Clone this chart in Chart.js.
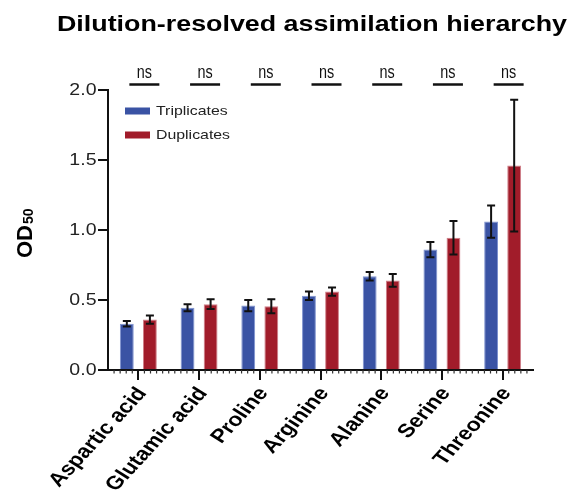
<!DOCTYPE html>
<html>
<head>
<meta charset="utf-8">
<script src="https://cdn.jsdelivr.net/npm/chart.js@4/dist/chart.umd.min.js"></script>
<style>
  html, body { margin: 0; padding: 0; background: #fff; }
  #wrap { width: 570px; height: 496px; }
</style>
</head>
<body>
<div id="wrap"><canvas id="c" width="570" height="496"></canvas></div>
<script>
// Amino acids, ordered by assimilation
const categories = ['Aspartic acid', 'Glutamic acid', 'Proline', 'Arginine', 'Alanine', 'Serine', 'Threonine'];

// OD50 means and error (SD) per replicate scheme
const triplicates    = [0.33, 0.445, 0.46, 0.53, 0.67, 0.86, 1.06];
const triplicatesErr = [0.02, 0.025, 0.04, 0.03, 0.03, 0.055, 0.115];
const duplicates     = [0.36, 0.47, 0.455, 0.56, 0.64, 0.945, 1.46];
const duplicatesErr  = [0.03, 0.035, 0.05, 0.03, 0.045, 0.12, 0.47];

// Significance labels per amino acid
const significance = ['ns', 'ns', 'ns', 'ns', 'ns', 'ns', 'ns'];

// y-axis tick values
const yTicks = [0, 0.5, 1.0, 1.5, 2.0];

const titleText = 'Dilution-resolved assimilation hierarchy';
const FONT = "'Liberation Sans', Arial, Helvetica, sans-serif";
const SX = 1.22; // horizontal text widening used throughout the figure

const BLUE = '#3a53a4';
const RED = '#a11c2a';

// Draws the figure text, error bars, significance marks, legend and minor ticks
const decorations = {
  id: 'decorations',
  afterDatasetsDraw(chart) {
    const ctx = chart.ctx;
    const y = chart.scales.y;

    // error bars
    ctx.save();
    ctx.strokeStyle = '#111';
    ctx.lineWidth = 2;
    chart.data.datasets.forEach((ds, di) => {
      const meta = chart.getDatasetMeta(di);
      meta.data.forEach((bar, i) => {
        const v = ds.data[i], e = ds.err[i];
        const yt = y.getPixelForValue(v + e);
        const yb = y.getPixelForValue(v - e);
        const cx = bar.x;
        ctx.beginPath();
        ctx.moveTo(cx, yt); ctx.lineTo(cx, yb);
        ctx.moveTo(cx - 4, yt); ctx.lineTo(cx + 4, yt);
        ctx.moveTo(cx - 4, yb); ctx.lineTo(cx + 4, yb);
        ctx.stroke();
      });
    });
    ctx.restore();
  },
  afterDraw(chart) {
    const ctx = chart.ctx;
    const x = chart.scales.x;
    const y = chart.scales.y;
    const area = chart.chartArea;

    // title
    ctx.save();
    ctx.fillStyle = '#000';
    ctx.font = 'bold 22px ' + FONT;
    ctx.textAlign = 'center';
    ctx.textBaseline = 'alphabetic';
    ctx.translate(312, 31);
    ctx.scale(SX, 1);
    ctx.fillText(titleText, 0, 0);
    ctx.restore();

    // y tick labels
    ctx.save();
    ctx.fillStyle = '#222';
    ctx.font = '16px ' + FONT;
    ctx.textAlign = 'right';
    ctx.textBaseline = 'middle';
    yTicks.forEach(v => {
      ctx.save();
      ctx.translate(area.left - 11.5, y.getPixelForValue(v) + 1);
      ctx.scale(SX, 1);
      ctx.fillText(v.toFixed(1), 0, 0);
      ctx.restore();
    });
    ctx.restore();

    // y axis title: OD50
    ctx.save();
    ctx.fillStyle = '#000';
    ctx.translate(32, 258);
    ctx.rotate(-Math.PI / 2);
    ctx.textBaseline = 'alphabetic';
    ctx.textAlign = 'left';
    ctx.font = 'bold 22px ' + FONT;
    ctx.fillText('OD', 0, 0);
    const w = ctx.measureText('OD').width;
    ctx.font = 'bold 14px ' + FONT;
    ctx.fillText('50', w + 1, 1);
    ctx.restore();

    // x tick labels, rotated
    ctx.save();
    ctx.fillStyle = '#000';
    ctx.font = 'bold 19px ' + FONT;
    ctx.textAlign = 'right';
    ctx.textBaseline = 'middle';
    const ang = 52.6 * Math.PI / 180;
    categories.forEach((c, i) => {
      ctx.save();
      ctx.translate(x.getPixelForValue(i) + 4, area.bottom + 20);
      ctx.scale(SX, 1);
      ctx.rotate(-ang);
      ctx.fillText(c, 0, 0);
      ctx.restore();
    });
    ctx.restore();

    // minor ticks along the x axis
    ctx.save();
    ctx.strokeStyle = '#333';
    ctx.lineWidth = 1.2;
    const cw = x.getPixelForValue(1) - x.getPixelForValue(0);
    ctx.beginPath();
    for (let i = 0; i < categories.length; i++) {
      const c = x.getPixelForValue(i);
      for (let k = -5; k <= 4; k++) {
        if (k === 0) continue;
        const px = c + k * cw / 10;
        if (px < area.left + 2) continue;
        ctx.moveTo(px, area.bottom);
        ctx.lineTo(px, area.bottom + 3.5);
      }
    }
    ctx.stroke();
    ctx.restore();

    // significance marks
    ctx.save();
    ctx.fillStyle = '#111';
    ctx.strokeStyle = '#111';
    ctx.lineWidth = 2.5;
    ctx.font = '18px ' + FONT;
    ctx.textAlign = 'center';
    ctx.textBaseline = 'alphabetic';
    significance.forEach((s, i) => {
      const cx = x.getPixelForValue(i) + 6;
      ctx.beginPath();
      ctx.moveTo(cx - 15, 84.5);
      ctx.lineTo(cx + 15, 84.5);
      ctx.stroke();
      ctx.save();
      ctx.translate(cx, 78);
      ctx.scale(0.8, 1);
      ctx.fillText(s, 0, 0);
      ctx.restore();
    });
    ctx.restore();

    // legend inside the plot
    ctx.save();
    ctx.font = '13px ' + FONT;
    ctx.textAlign = 'left';
    ctx.textBaseline = 'middle';
    chart.data.datasets.forEach((ds, di) => {
      const cy = 111 + di * 24;
      ctx.fillStyle = ds.backgroundColor;
      ctx.fillRect(125, cy - 3.5, 25, 7);
      ctx.fillStyle = '#222';
      ctx.save();
      ctx.translate(156, cy + 0.5);
      ctx.scale(SX, 1);
      ctx.fillText(ds.label, 0, 0);
      ctx.restore();
    });
    ctx.restore();
  }
};

new Chart(document.getElementById('c'), {
  type: 'bar',
  data: {
    labels: categories,
    datasets: [
      { label: 'Triplicates', data: triplicates, err: triplicatesErr,
        backgroundColor: BLUE, borderColor: '#7f93cf', borderWidth: 1 },
      { label: 'Duplicates', data: duplicates, err: duplicatesErr,
        backgroundColor: RED, borderColor: '#cf7f88', borderWidth: 1 }
    ]
  },
  options: {
    responsive: false,
    animation: false,
    devicePixelRatio: 1,
    layout: { padding: { top: 90, right: 37, left: 0, bottom: 0 } },
    datasets: { bar: { categoryPercentage: 0.76, barPercentage: 0.6 } },
    plugins: {
      legend: { display: false },
      title: { display: false },
      tooltip: { enabled: false }
    },
    scales: {
      x: {
        ticks: { display: false },
        grid: { display: true, offset: false, drawOnChartArea: false, drawTicks: true,
                tickLength: 10, color: '#111', lineWidth: 2 },
        border: { display: true, color: '#111', width: 2 },
        afterFit(scale) { scale.height = 126; }
      },
      y: {
        min: 0, max: 2,
        ticks: { display: false, stepSize: 0.5 },
        grid: { display: true, drawOnChartArea: false, drawTicks: true,
                tickLength: 10, color: '#111', lineWidth: 2 },
        border: { display: true, color: '#111', width: 2 },
        afterFit(scale) { scale.height; scale.width = 108; }
      }
    }
  },
  plugins: [decorations]
});
</script>
</body>
</html>
